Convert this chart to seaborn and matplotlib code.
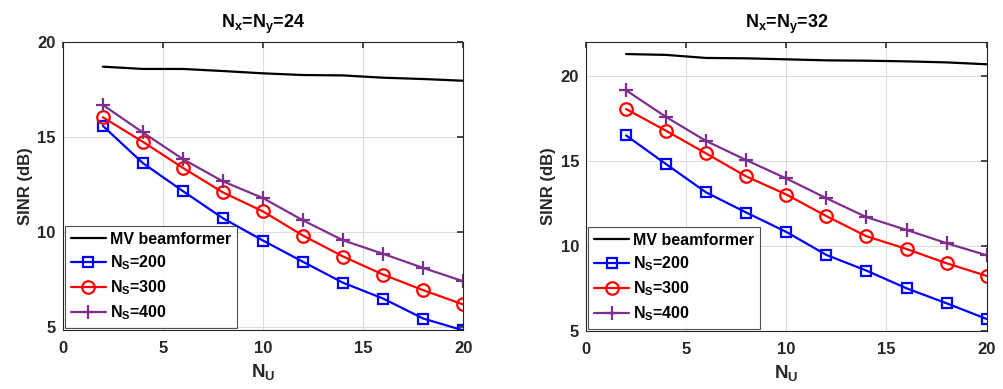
import numpy as np
import pandas as pd
import matplotlib
matplotlib.use("Agg")
import matplotlib.pyplot as plt
import seaborn as sns

sns.set_theme(style="white")
plt.rcParams['font.family'] = ['Liberation Sans', 'DejaVu Sans']
plt.rcParams['mathtext.fontset'] = 'custom'
plt.rcParams['mathtext.rm'] = 'Liberation Sans'
plt.rcParams['mathtext.bf'] = 'Liberation Sans:bold'
plt.rcParams['mathtext.it'] = 'Liberation Sans:bold'

nu = [2, 4, 6, 8, 10, 12, 14, 16, 18, 20]

# Panel 1: Nx=Ny=24
mv_24 = [18.69, 18.57, 18.57, 18.46, 18.34, 18.25, 18.23, 18.11, 18.04, 17.95]
ns200_24 = [15.58, 13.62, 12.15, 10.72, 9.55, 8.43, 7.33, 6.50, 5.45, 4.83]
ns300_24 = [16.03, 14.74, 13.37, 12.08, 11.08, 9.81, 8.71, 7.76, 6.94, 6.19]
ns400_24 = [16.68, 15.23, 13.83, 12.66, 11.78, 10.61, 9.56, 8.85, 8.11, 7.41]

# Panel 2: Nx=Ny=32
mv_32 = [21.27, 21.22, 21.04, 21.02, 20.96, 20.90, 20.88, 20.84, 20.78, 20.67]
ns200_32 = [16.49, 14.80, 13.14, 11.96, 10.82, 9.47, 8.55, 7.51, 6.63, 5.71]
ns300_32 = [18.04, 16.76, 15.43, 14.08, 13.02, 11.75, 10.57, 9.82, 8.98, 8.24]
ns400_32 = [19.14, 17.57, 16.16, 15.04, 13.96, 12.80, 11.69, 10.94, 10.16, 9.45]

titles = [r'$\mathbf{N_x}$=$\mathbf{N_y}$=24', r'$\mathbf{N_x}$=$\mathbf{N_y}$=32']
labels = ['MV beamformer', r'$\mathbf{N_S}$=200', r'$\mathbf{N_S}$=300', r'$\mathbf{N_S}$=400']
panels = [[mv_24, ns200_24, ns300_24, ns400_24], [mv_32, ns200_32, ns300_32, ns400_32]]

colors = ['black', '#0000FF', '#FF0000', '#7E2F8E']
styles = [
    dict(marker='None'),
    dict(marker='s', markersize=7.5, markerfacecolor='none', markeredgewidth=1.6),
    dict(marker='o', markersize=9, markerfacecolor='none', markeredgewidth=1.6),
    dict(marker='+', markersize=10, markeredgewidth=1.6),
]

fig = plt.figure(figsize=(10.04, 3.89), dpi=100)
positions = [[0.0625, 0.1517, 0.399, 0.741], [0.5837, 0.149, 0.399, 0.744]]
ylims = [(4.85, 20), (5, 22)]
fs = 12

for p in range(2):
    ax = fig.add_axes(positions[p])
    handles = []
    for s, (vals, lab) in enumerate(zip(panels[p], labels)):
        df = pd.DataFrame({'NU': nu, 'SINR': vals})
        n_before = len(ax.lines)
        sns.lineplot(data=df, x='NU', y='SINR', ax=ax, color=colors[s], linewidth=1.6)
        line = ax.lines[n_before]
        line.set_linestyle('-')
        line.set_label(lab)
        plt.setp(line, markeredgecolor=colors[s], **styles[s])
        handles.append(line)
    ax.set_xlim(0, 20)
    ax.set_ylim(*ylims[p])
    ax.set_xticks([0, 5, 10, 15, 20])
    ax.set_yticks([5, 10, 15, 20])
    ax.grid(True, color='#dddddd', linewidth=0.8)
    ax.tick_params(direction='in', length=4, top=True, right=True, labelsize=fs, color='#333333')
    ax.tick_params(axis='x', pad=8)
    ax.tick_params(axis='y', pad=5)
    for t in ax.get_xticklabels() + ax.get_yticklabels():
        t.set_fontweight('bold')
        t.set_color('#262626')
    for sp in ax.spines.values():
        sp.set_color('#262626')
        sp.set_linewidth(0.8)
    ax.set_xlabel(r'$\mathbf{N_U}$', fontsize=fs + 1.5, color='#262626', labelpad=4)
    ax.set_ylabel('SINR (dB)', fontsize=fs, fontweight='bold', color='#262626', labelpad=3)
    ax.set_title(titles[p], fontsize=fs + 1, fontweight='bold', color='black', pad=10)
    leg = ax.legend(handles=handles, labels=labels, loc='lower left', frameon=True, fancybox=False,
                    borderaxespad=0.15, prop={'weight': 'bold', 'size': 11.5}, handlelength=2.2,
                    labelspacing=0.4, borderpad=0.35, handletextpad=0.25)
    leg.get_frame().set_edgecolor('#262626')
    leg.get_frame().set_linewidth(0.8)
    for t in leg.get_texts():
        t.set_color('black')

fig.savefig('out.png', dpi=100)
